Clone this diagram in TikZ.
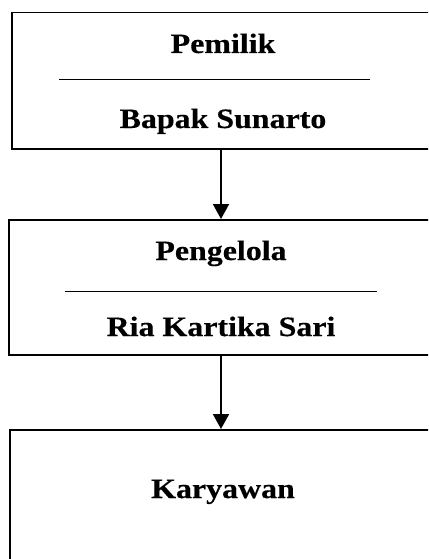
\documentclass[tikz,border=0pt]{standalone}
\usepackage{fontspec}
\newfontfamily\tfont[FakeStretch=1.14,FakeBold=0.4]{Liberation Serif}
\usetikzlibrary{arrows.meta}
\begin{document}
\begin{tikzpicture}[x=1pt,y=-1pt,
  box/.style={draw,line width=1.5pt,rectangle,inner sep=0pt,anchor=north west},
  lbl/.style={anchor=base,inner sep=0pt,font=\tfont\bfseries\fontsize{28}{34}\selectfont},
  sep/.style={line width=0.9pt},
  conn/.style={line width=2pt,-{Triangle[width=16pt,length=15pt]}}]
\clip (0,0) rectangle (428,559);
\fill[white] (0,0) rectangle (428,559);
\node[box,minimum width=440pt,minimum height=136pt] (b1) at (11,12) {};
\node[box,minimum width=440pt,minimum height=135pt] (b2) at (8,219) {};
\node[box,minimum width=440pt,minimum height=160pt] (b3) at (9,429) {};
\node[lbl] (t1a) at (223,53) {Pemilik};
\node[lbl] (t1b) at (223,128) {Bapak Sunarto};
\node[lbl] (t2a) at (221,260) {Pengelola};
\node[lbl] (t2b) at (221,336) {Ria Kartika Sari};
\node[lbl] (t3) at (223,498) {Karyawan};
\coordinate (s1l) at (59,79); \coordinate (s1r) at (370,79);
\coordinate (s2l) at (65,291); \coordinate (s2r) at (377,291);
\draw[sep] (s1l) -- (s1r);
\draw[sep] (s2l) -- (s2r);
\coordinate (ax) at (221,0);
\draw[conn] (b1.south -| ax) -- (b2.north -| ax);
\draw[conn] (b2.south -| ax) -- (b3.north -| ax);
\end{tikzpicture}
\end{document}
